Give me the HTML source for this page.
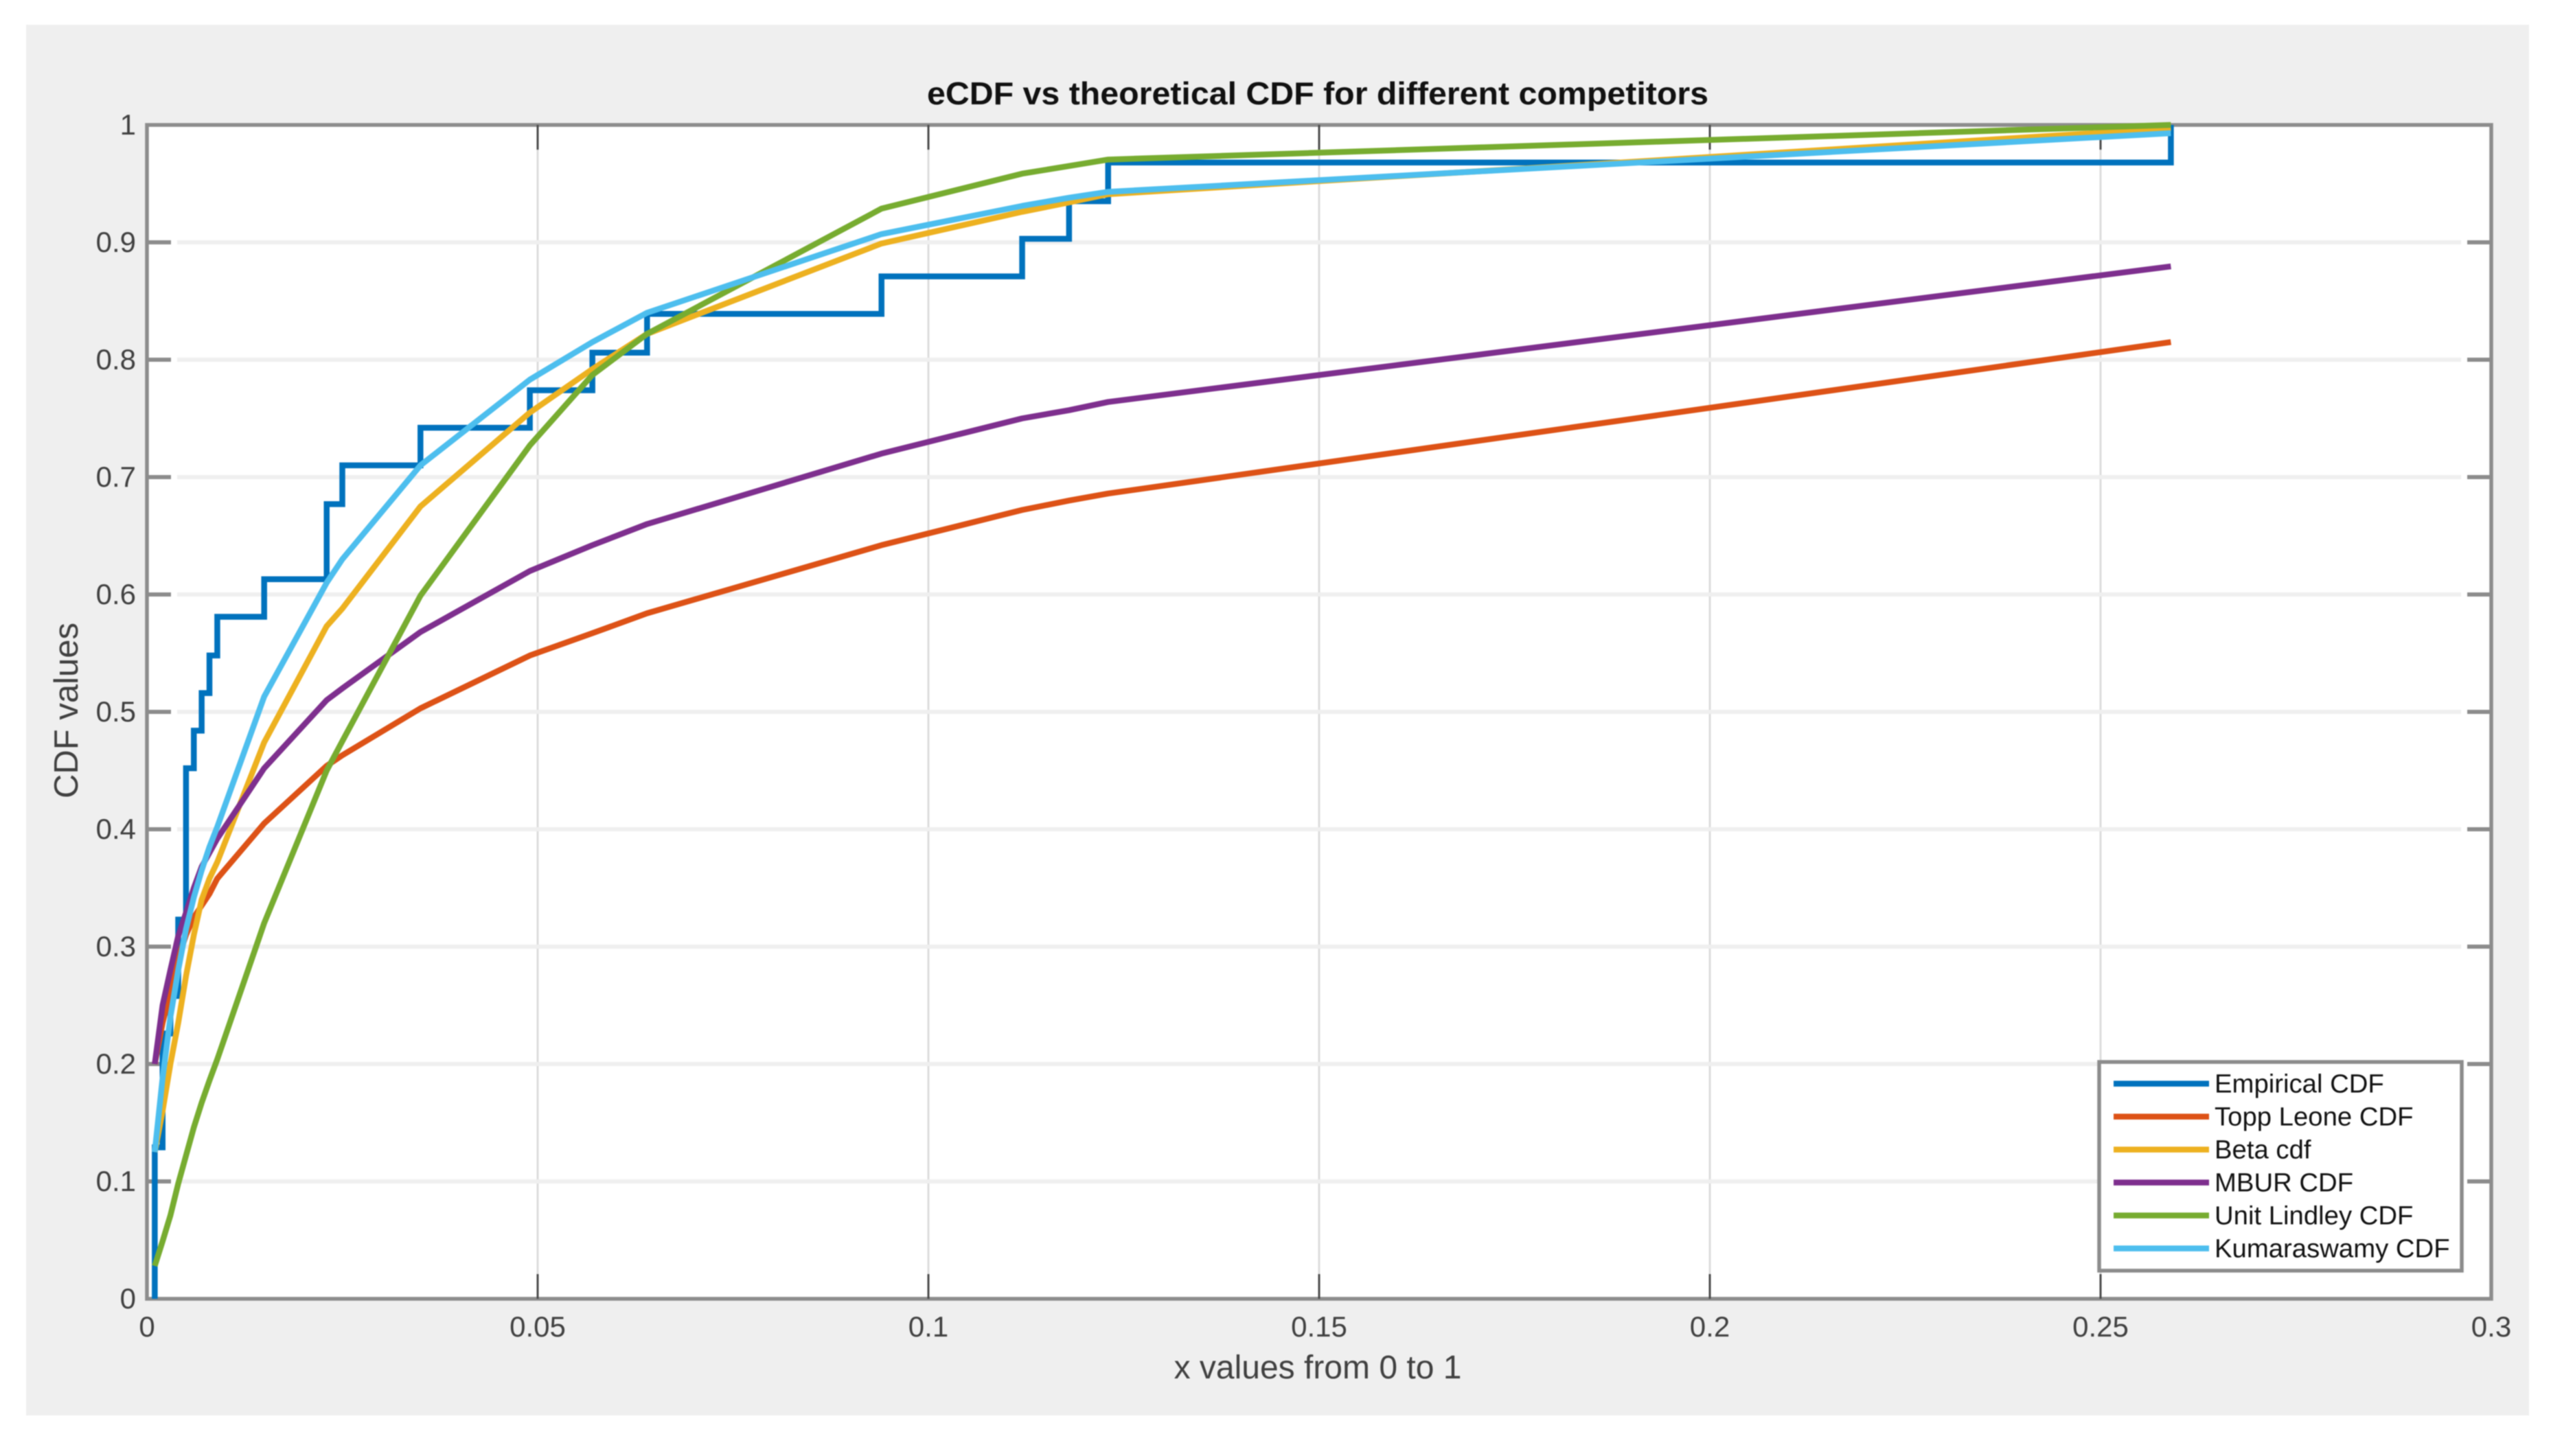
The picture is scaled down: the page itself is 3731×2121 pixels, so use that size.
<!DOCTYPE html>
<html lang="en">
<head>
<meta charset="utf-8">
<title>eCDF vs theoretical CDF for different competitors</title>
<style>
  html, body { margin: 0; padding: 0; background: #ffffff; }
  body { width: 3731px; height: 2121px; overflow: hidden; position: relative; }
  #chart { position: absolute; left: 0; top: 0; display: block; filter: blur(0.8px); }
  text { font-family: "Liberation Sans", Arial, sans-serif; }
</style>
</head>
<body>
<svg id="chart" xmlns="http://www.w3.org/2000/svg" width="3731" height="2121" viewBox="0 0 3731 2121">
  <rect x="38" y="36" width="3645" height="2026" fill="#efefef"/>
  <rect x="214" y="182" width="3414" height="1710" fill="#ffffff"/>
  <g id="grid"></g>
  <g id="frame"></g>
  <g id="ticks"></g>
  <g id="tick-labels"></g>
  <g id="series"></g>
  <text x="1350" y="152" font-size="46" font-weight="bold" fill="#111111" textLength="1138" lengthAdjust="spacingAndGlyphs">eCDF vs theoretical CDF for different competitors</text>
  <text x="1919" y="2008" text-anchor="middle" font-size="48" fill="#404040">x values from 0 to 1</text>
  <text x="0" y="0" transform="translate(113,1035) rotate(-90)" text-anchor="middle" font-size="49" fill="#404040">CDF values</text>
  <g id="legend"></g>
</svg>
<script>
const xKnots = [0.001,0.002,0.003,0.004,0.005,0.006,0.007,0.008,0.009,0.015,0.023,0.025,0.035,0.049,0.057,0.064,0.094,0.112,0.118,0.123,0.259];
const empiricalCdf = [0.129,0.226,0.258,0.323,0.452,0.484,0.516,0.548,0.581,0.613,0.677,0.710,0.742,0.774,0.806,0.839,0.871,0.903,0.935,0.968,1.0];
const toppLeoneCdf = [0.2,0.235,0.262,0.29,0.31,0.325,0.335,0.345,0.358,0.405,0.454,0.463,0.503,0.548,0.567,0.584,0.642,0.672,0.68,0.686,0.815];
const betaCdf = [0.125,0.16,0.2,0.235,0.275,0.31,0.34,0.358,0.372,0.474,0.573,0.588,0.675,0.755,0.792,0.822,0.899,0.926,0.934,0.941,0.997];
const mburCdf = [0.2,0.25,0.28,0.309,0.329,0.35,0.368,0.38,0.392,0.452,0.51,0.52,0.568,0.62,0.642,0.66,0.72,0.75,0.757,0.764,0.8795];
const unitLindleyCdf = [0.028,0.049,0.071,0.098,0.122,0.146,0.167,0.186,0.204,0.32,0.45,0.475,0.599,0.727,0.787,0.822,0.9287,0.9585,0.965,0.9705,1.0];
const kumaraswamyCdf = [0.125,0.188,0.24,0.28,0.315,0.342,0.365,0.385,0.402,0.513,0.61,0.63,0.71,0.783,0.815,0.84,0.907,0.931,0.938,0.943,0.993];
const xTickValues = [0,0.05,0.1,0.15,0.2,0.25,0.3];
const xTickLabels = ["0","0.05","0.1","0.15","0.2","0.25","0.3"];
const yTickValues = [0,0.1,0.2,0.3,0.4,0.5,0.6,0.7,0.8,0.9,1];
const yTickLabels = ["0","0.1","0.2","0.3","0.4","0.5","0.6","0.7","0.8","0.9","1"];
const legendLabels = ["Empirical CDF","Topp Leone CDF","Beta cdf","MBUR CDF","Unit Lindley CDF","Kumaraswamy CDF"];
const seriesColors = ["#0072BD","#DD5216","#EDB120","#7E2F8E","#77AC30","#4DBEEE"];

const AX = { left: 214, right: 3628, top: 182, bottom: 1892, xMax: 0.3 };
function xScale(v) { return AX.left + (v / AX.xMax) * (AX.right - AX.left); }
function yScale(v) { return AX.bottom - v * (AX.bottom - AX.top); }

const NS = "http://www.w3.org/2000/svg";
function mk(tag, parentId, attrs) {
  const el = document.createElementNS(NS, tag);
  for (const k in attrs) el.setAttribute(k, attrs[k]);
  document.getElementById(parentId).appendChild(el);
  return el;
}
const AXIS_COLOR = "#8c8c8c";
const LINE_WIDTH = 8.5;

/* grid */
xTickValues.slice(1, -1).forEach(function (v) {
  const el = mk("line", "grid", { x1: xScale(v), x2: xScale(v), y1: AX.top, y2: AX.bottom, stroke: "#dcdcdc", "stroke-width": 3 });
  
  
});
yTickValues.slice(1, -1).forEach(function (v) {
  const el = mk("line", "grid", { x1: AX.left + 44, x2: AX.right - 44, y1: yScale(v), y2: yScale(v), stroke: "#efefef", "stroke-width": 6 });
  
  
});

/* frame */
const frameEl = mk("rect", "frame", { x: AX.left, y: AX.top, width: AX.right - AX.left, height: AX.bottom - AX.top, fill: "none", stroke: AXIS_COLOR, "stroke-width": 5.5 });



/* ticks */
xTickValues.slice(1, -1).forEach(function (v) {
  const top = mk("line", "ticks", { x1: xScale(v), x2: xScale(v), y1: AX.top, y2: AX.top + 36, stroke: "#4a4a4a", "stroke-width": 3 });
  
  
  const bottom = mk("line", "ticks", { x1: xScale(v), x2: xScale(v), y1: AX.bottom, y2: AX.bottom - 36, stroke: "#4a4a4a", "stroke-width": 3 });
  
  
});
yTickValues.slice(1, -1).forEach(function (v) {
  const left = mk("line", "ticks", { x1: AX.left, x2: AX.left + 35, y1: yScale(v), y2: yScale(v), stroke: AXIS_COLOR, "stroke-width": 6 });
  
  
  const right = mk("line", "ticks", { x1: AX.right, x2: AX.right - 35, y1: yScale(v), y2: yScale(v), stroke: AXIS_COLOR, "stroke-width": 6 });
  
  
});

/* tick labels */
xTickValues.forEach(function (v, i) {
  const t = mk("text", "tick-labels", { x: xScale(v), y: 1947, "text-anchor": "middle", "font-size": 42, fill: "#404040" });
  t.textContent = xTickLabels[i];
  
  
});
yTickValues.forEach(function (v, i) {
  const t = mk("text", "tick-labels", { x: 198, y: yScale(v) + 14, "text-anchor": "end", "font-size": 42, fill: "#404040" });
  t.textContent = yTickLabels[i];
  
  
});

/* series */
function stairsPath(xs, ys) {
  let d = "M" + xScale(xs[0]) + " " + yScale(0);
  for (let i = 0; i < xs.length; i++) {
    d += " L" + xScale(xs[i]) + " " + yScale(ys[i]);
    if (i + 1 < xs.length) d += " L" + xScale(xs[i + 1]) + " " + yScale(ys[i]);
  }
  return d;
}
function linePath(xs, ys) {
  return xs.map(function (x, i) { return (i ? "L" : "M") + xScale(x) + " " + yScale(ys[i]); }).join(" ");
}
const empiricalEl = mk("path", "series", { d: stairsPath(xKnots, empiricalCdf), fill: "none", stroke: seriesColors[0], "stroke-width": LINE_WIDTH, "stroke-linejoin": "miter" });


const toppEl = mk("path", "series", { d: linePath(xKnots, toppLeoneCdf), fill: "none", stroke: seriesColors[1], "stroke-width": LINE_WIDTH, "stroke-linejoin": "round" });


const betaEl = mk("path", "series", { d: linePath(xKnots, betaCdf), fill: "none", stroke: seriesColors[2], "stroke-width": LINE_WIDTH, "stroke-linejoin": "round" });


const mburEl = mk("path", "series", { d: linePath(xKnots, mburCdf), fill: "none", stroke: seriesColors[3], "stroke-width": LINE_WIDTH, "stroke-linejoin": "round" });


const lindleyEl = mk("path", "series", { d: linePath(xKnots, unitLindleyCdf), fill: "none", stroke: seriesColors[4], "stroke-width": LINE_WIDTH, "stroke-linejoin": "round" });


const kumaEl = mk("path", "series", { d: linePath(xKnots, kumaraswamyCdf), fill: "none", stroke: seriesColors[5], "stroke-width": LINE_WIDTH, "stroke-linejoin": "round" });



/* legend */
const legendBox = mk("rect", "legend", { x: 3057, y: 1547, width: 528, height: 304, fill: "#ffffff", stroke: AXIS_COLOR, "stroke-width": 5.5 });


legendLabels.forEach(function (label, i) {
  const rowY = 1578.6 + i * 48;
  const swatch = mk("line", "legend", { x1: 3078, x2: 3217, y1: rowY, y2: rowY, stroke: seriesColors[i], "stroke-width": LINE_WIDTH });
  
  
  const t = mk("text", "legend", { x: 3225, y: rowY + 13, "font-size": 38.3, fill: "#111111" });
  t.textContent = label;
  
  
});
</script>
</body>
</html>
